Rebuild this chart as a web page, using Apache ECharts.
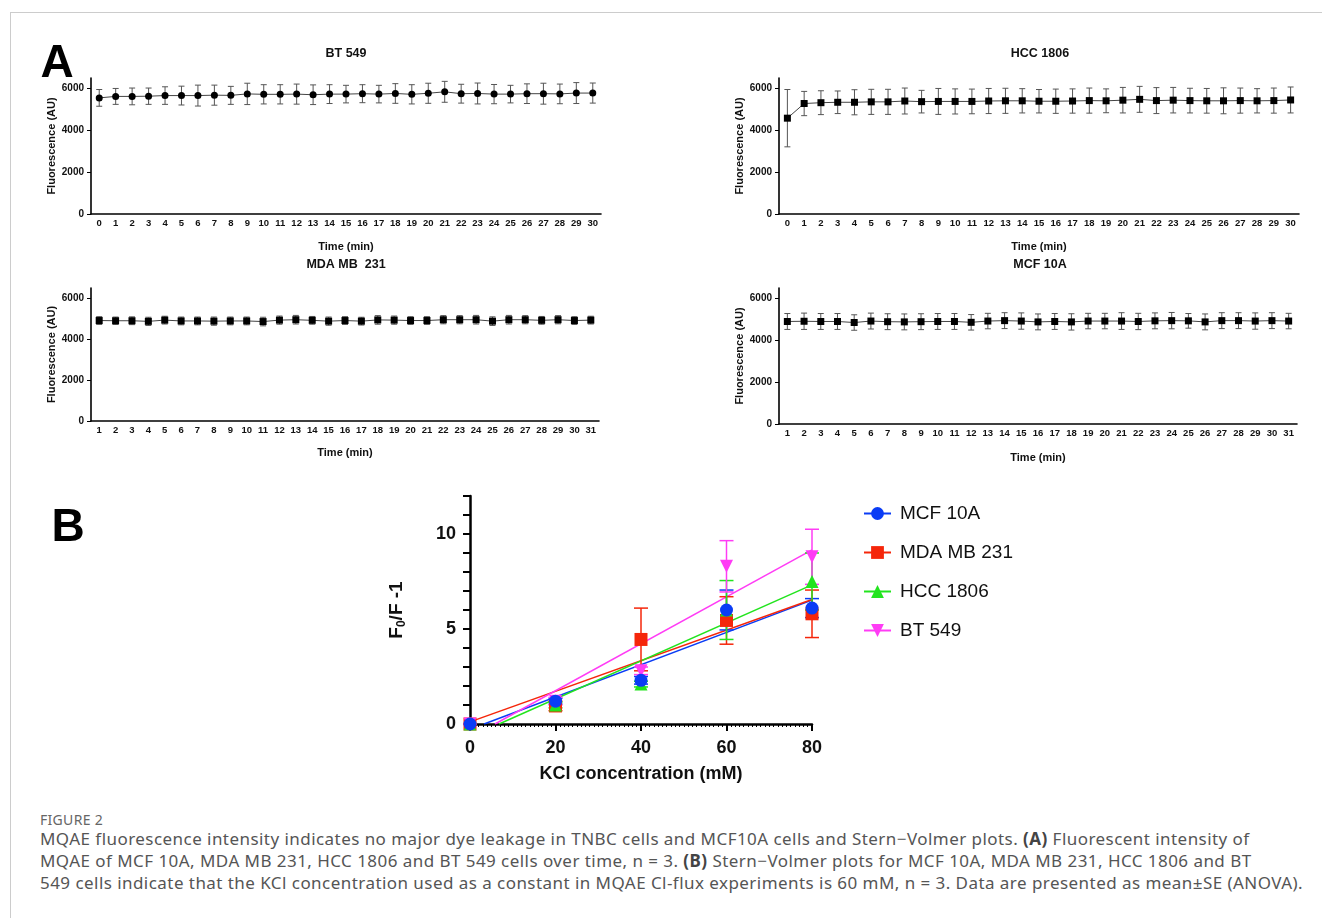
<!DOCTYPE html>
<html>
<head>
<meta charset="utf-8">
<script src="https://cdn.jsdelivr.net/npm/echarts@6/dist/echarts.min.js"></script>
<style>
body{margin:0;background:#fff;}
#page{position:relative;width:1322px;height:918px;overflow:hidden;background:#fff;}
#frame{position:absolute;left:10px;top:12px;width:1330px;height:920px;border-top:1px solid #cccccc;border-left:1px solid #cccccc;}
#chart{position:absolute;left:0;top:0;width:1322px;height:800px;}
.cap{position:absolute;left:40px;font-family:"Noto Sans",sans-serif;color:#555;white-space:nowrap;font-size:17px;letter-spacing:0.45px;}
.cap b{color:#444;}
#fig{top:810px;font-size:14px;letter-spacing:0.3px;color:#666;}
</style>
</head>
<body>
<div id="page">
  <div id="frame"></div>
  <div id="chart"></div>
  <div class="cap" id="fig">FIGURE 2</div>
  <div class="cap" style="top:827px">MQAE fluorescence intensity indicates no major dye leakage in TNBC cells and MCF10A cells and Stern−Volmer plots. <b>(A)</b> Fluorescent intensity of</div>
  <div class="cap" style="top:849px">MQAE of MCF 10A, MDA MB 231, HCC 1806 and BT 549 cells over time, n = 3. <b>(B)</b> Stern−Volmer plots for MCF 10A, MDA MB 231, HCC 1806 and BT</div>
  <div class="cap" style="top:871px">549 cells indicate that the KCl concentration used as a constant in MQAE Cl-flux experiments is 60 mM, n = 3. Data are presented as mean±SE (ANOVA).</div>
</div>
<script>
// ---- panel A: time courses ----
var minutes0 = ['0','1','2','3','4','5','6','7','8','9','10','11','12','13','14','15','16','17','18','19','20','21','22','23','24','25','26','27','28','29','30'];
var minutes1 = ['1','2','3','4','5','6','7','8','9','10','11','12','13','14','15','16','17','18','19','20','21','22','23','24','25','26','27','28','29','30','31'];
var fluoTicks = [0, 2000, 4000, 6000];

var bt549Mean = [5550,5620,5620,5630,5660,5660,5660,5680,5670,5740,5720,5720,5730,5700,5730,5730,5750,5730,5760,5720,5770,5840,5750,5760,5730,5730,5750,5750,5740,5780,5780];
var bt549Err  = [400,380,400,390,420,450,500,480,430,510,460,460,480,470,450,420,430,420,470,460,480,500,450,500,460,420,470,500,470,500,480];

var hcc1806Mean = [4580,5280,5320,5340,5340,5360,5360,5400,5370,5380,5380,5380,5400,5410,5410,5390,5390,5400,5420,5410,5440,5480,5420,5440,5420,5410,5410,5420,5410,5420,5450];
var hcc1806Err  = [1370,580,570,540,600,600,600,620,540,620,600,590,600,600,580,560,580,580,600,570,610,620,620,610,590,590,620,600,580,600,620];

var mda231Mean = [4910,4900,4900,4870,4930,4890,4890,4880,4890,4890,4860,4930,4950,4920,4880,4910,4880,4940,4930,4910,4910,4950,4950,4950,4880,4950,4950,4920,4950,4910,4930];
var mda231Err  = [190,180,190,200,190,190,190,200,190,190,210,200,210,190,200,190,190,210,200,190,190,200,200,210,210,210,200,190,200,190,190];

var mcf10aMean = [4900,4910,4900,4900,4850,4920,4890,4880,4890,4900,4900,4860,4920,4940,4920,4880,4900,4880,4920,4920,4920,4900,4930,4940,4930,4880,4940,4940,4920,4940,4920];
var mcf10aErr  = [380,390,380,380,370,380,380,380,380,380,380,370,370,380,390,380,380,390,370,370,400,390,380,390,350,380,380,380,390,380,370];

// ---- panel B: Stern-Volmer ----
var kcl = [0, 20, 40, 60, 80];
var groupNames = ['MCF 10A', 'MDA MB 231', 'HCC 1806', 'BT 549'];
var mcfSV  = [0, 1.2, 2.3, 6.0, 6.1];
var mcfSVErr = [0, 0.15, 0.2, 1.05, 0.5];
var mdaSV  = [0, 0.95, 4.45, 5.45, 5.8];
var mdaSVErr = [0, 0.25, 1.65, 1.25, 1.25];
var hccSV  = [0, 1.0, 2.1, 6.0, 7.5];
var hccSVErr = [0, 0.15, 0.15, 1.55, 1.5];
var btSV   = [0, 1.2, 2.8, 8.3, 8.8];
var btSVErr = [0, 0.2, 0.2, 1.35, 1.45];

var FONT = '"Liberation Sans", Arial, sans-serif';

function errRows(means, errs, useIndex, xs) {
    var out = [];
    for (var i = 0; i < means.length; i++) {
        out.push([useIndex ? i : xs[i], means[i] - errs[i], means[i] + errs[i]]);
    }
    return out;
}

function errBar(capHalf, color, width) {
    return function (params, api) {
        var x = api.value(0);
        var hi = api.coord([x, api.value(2)]);
        var lo = api.coord([x, api.value(1)]);
        var st = { stroke: color, lineWidth: width };
        return {
            type: 'group',
            children: [
                { type: 'line', shape: { x1: hi[0], y1: hi[1], x2: lo[0], y2: lo[1] }, style: st },
                { type: 'line', shape: { x1: hi[0] - capHalf, y1: hi[1], x2: hi[0] + capHalf, y2: hi[1] }, style: st },
                { type: 'line', shape: { x1: lo[0] - capHalf, y1: lo[1], x2: lo[0] + capHalf, y2: lo[1] }, style: st }
            ]
        };
    };
}

// least squares line, drawn from where it crosses 0 (or x=0) to the last concentration
function fitLine(xs, ys) {
    var n = xs.length, mx = 0, my = 0, sxy = 0, sxx = 0;
    for (var i = 0; i < n; i++) { mx += xs[i] / n; my += ys[i] / n; }
    for (var j = 0; j < n; j++) {
        sxy += (xs[j] - mx) * (ys[j] - my);
        sxx += (xs[j] - mx) * (xs[j] - mx);
    }
    var m = sxy / sxx, b = my - m * mx;
    var x0 = b < 0 ? -b / m : xs[0];
    var x1 = xs[n - 1];
    return [[x0, m * x0 + b], [x1, m * x1 + b]];
}

var myChart = echarts.init(document.getElementById('chart'));

var panels = [
    { title: 'BT 549',      cats: minutes0, mean: bt549Mean,   err: bt549Err,   symbol: 'circle', grid: { left: 91,  top: 78,  width: 510, height: 136 }, nameGap: 27 },
    { title: 'HCC 1806',    cats: minutes0, mean: hcc1806Mean, err: hcc1806Err, symbol: 'rect',   grid: { left: 779, top: 78,  width: 520, height: 136 }, nameGap: 27 },
    { title: 'MDA MB  231', cats: minutes1, mean: mda231Mean,  err: mda231Err,  symbol: 'rect',   grid: { left: 91,  top: 288, width: 508, height: 133 }, nameGap: 26 },
    { title: 'MCF 10A',     cats: minutes1, mean: mcf10aMean,  err: mcf10aErr,  symbol: 'rect',   grid: { left: 779, top: 288, width: 518, height: 136 }, nameGap: 28 }
];

var grids = [], xAxes = [], yAxes = [], series = [], graphics = [];

panels.forEach(function (p, k) {
    grids.push(p.grid);
    xAxes.push({
        type: 'category',
        gridIndex: k,
        data: p.cats,
        boundaryGap: true,
        name: 'Time (min)',
        nameLocation: 'middle',
        nameGap: p.nameGap,
        nameTextStyle: { fontFamily: FONT, fontWeight: 'bold', fontSize: 11, color: '#111' },
        axisLine: { lineStyle: { color: '#000', width: 1.6 } },
        axisTick: { alignWithLabel: true, length: 3, lineStyle: { color: '#000' } },
        axisLabel: { interval: 0, fontFamily: FONT, fontWeight: 'bold', fontSize: 9.5, color: '#111', margin: 4 },
        splitLine: { show: false }
    });
    yAxes.push({
        type: 'value',
        gridIndex: k,
        min: 0,
        max: 6500,
        interval: 2000,
        name: 'Fluorescence (AU)',
        nameLocation: 'middle',
        nameRotate: 90,
        nameGap: 33,
        nameTextStyle: { fontFamily: FONT, fontWeight: 'bold', fontSize: 11, color: '#111' },
        axisLine: { show: true, lineStyle: { color: '#000', width: 1.6 } },
        axisTick: { show: true, length: 4, lineStyle: { color: '#000' }, customValues: fluoTicks },
        axisLabel: {
            fontFamily: FONT, fontWeight: 'bold', fontSize: 10, color: '#111', margin: 7,
            customValues: fluoTicks,
            formatter: function (v) { return String(v); }
        },
        splitLine: { show: false }
    });
    series.push({
        type: 'custom',
        xAxisIndex: k,
        yAxisIndex: k,
        renderItem: errBar(3, '#555', 1),
        encode: { x: 0, y: [1, 2] },
        data: errRows(p.mean, p.err, true),
        z: 2,
        silent: true
    });
    series.push({
        type: 'line',
        xAxisIndex: k,
        yAxisIndex: k,
        data: p.mean,
        symbol: p.symbol,
        symbolSize: 7,
        itemStyle: { color: '#000' },
        lineStyle: { color: '#444', width: 1 },
        z: 3,
        silent: true
    });
    graphics.push({
        type: 'text', x: k % 2 ? 1040 : 346, y: k < 2 ? 54 : 265,
        style: { text: p.title, font: 'bold 12.5px ' + FONT, fill: '#111', align: 'center', verticalAlign: 'middle' }
    });
});

// panel B axes
grids.push({ left: 470, top: 496, width: 342, height: 228 });
xAxes.push({
    type: 'value',
    gridIndex: 4,
    min: 0,
    max: 80,
    interval: 20,
    name: 'KCl concentration (mM)',
    nameLocation: 'middle',
    nameGap: 41,
    nameTextStyle: { fontFamily: FONT, fontWeight: 'bold', fontSize: 18, color: '#111' },
    axisLine: { onZero: false, lineStyle: { color: '#000', width: 2.5 } },
    axisTick: { length: 7, lineStyle: { color: '#000', width: 2 } },
    minorTick: { show: true, splitNumber: 20, length: 3, lineStyle: { color: '#000', width: 1 } },
    axisLabel: { fontFamily: FONT, fontWeight: 'bold', fontSize: 18, color: '#111', margin: 15 },
    splitLine: { show: false }
});
yAxes.push({
    type: 'value',
    gridIndex: 4,
    min: 0,
    max: 12,
    interval: 1,
    name: 'F{s|0}/F -1',
    nameLocation: 'middle',
    nameRotate: 90,
    nameGap: 62,
    nameTextStyle: {
        fontFamily: FONT, fontWeight: 'bold', fontSize: 19, color: '#111',
        rich: { s: { fontFamily: FONT, fontWeight: 'bold', fontSize: 12, color: '#111', verticalAlign: 'bottom', padding: [10, 0, 0, 0] } }
    },
    axisLine: { show: true, onZero: false, lineStyle: { color: '#000', width: 2.5 } },
    axisTick: { show: true, length: 7, lineStyle: { color: '#000', width: 2 } },
    axisLabel: {
        fontFamily: FONT, fontWeight: 'bold', fontSize: 18, color: '#111', margin: 14,
        formatter: function (v) { return v % 5 === 0 ? String(v) : ''; }
    },
    splitLine: { show: false }
});

var svGroups = [
    { name: 'MCF 10A',    ys: mcfSV, err: mcfSVErr, color: '#0a3cf5', symbol: 'circle',   rot: 0 },
    { name: 'MDA MB 231', ys: mdaSV, err: mdaSVErr, color: '#f5260a', symbol: 'rect',     rot: 0 },
    { name: 'HCC 1806',   ys: hccSV, err: hccSVErr, color: '#22e41e', symbol: 'triangle', rot: 0 },
    { name: 'BT 549',     ys: btSV,  err: btSVErr,  color: '#ff3cf5', symbol: 'triangle', rot: 180 }
];

// fit lines first, so the legend picks up line + marker icons
svGroups.forEach(function (g) {
    series.push({
        name: g.name,
        type: 'line',
        xAxisIndex: 4,
        yAxisIndex: 4,
        data: fitLine(kcl, g.ys),
        symbol: g.symbol,
        symbolRotate: g.rot,
        symbolSize: 13,
        showSymbol: false,
        itemStyle: { color: g.color },
        lineStyle: { color: g.color, width: 1.5 },
        z: 2,
        silent: true
    });
});
svGroups.forEach(function (g) {
    series.push({
        name: g.name,
        type: 'custom',
        xAxisIndex: 4,
        yAxisIndex: 4,
        renderItem: errBar(7, g.color, 1.5),
        encode: { x: 0, y: [1, 2] },
        data: errRows(g.ys, g.err, false, kcl),
        z: 3,
        silent: true
    });
});
// draw order of markers: red, green, magenta, blue on top
[1, 2, 3, 0].forEach(function (i) {
    var g = svGroups[i];
    var pts = kcl.map(function (x, j) { return [x, g.ys[j]]; });
    series.push({
        name: g.name,
        type: 'scatter',
        xAxisIndex: 4,
        yAxisIndex: 4,
        data: pts,
        symbol: g.symbol,
        symbolRotate: g.rot,
        symbolSize: 13,
        itemStyle: { color: g.color, opacity: 1 },
        z: 4,
        silent: true
    });
});

graphics.push({ type: 'text', x: 57, y: 64, style: { text: 'A', font: 'bold 46px ' + FONT, fill: '#000', align: 'center', verticalAlign: 'middle' } });
graphics.push({ type: 'text', x: 68, y: 528, style: { text: 'B', font: 'bold 46px ' + FONT, fill: '#000', align: 'center', verticalAlign: 'middle' } });

var option = {
    backgroundColor: 'transparent',
    animation: false,
    grid: grids,
    xAxis: xAxes,
    yAxis: yAxes,
    legend: {
        data: groupNames,
        orient: 'vertical',
        left: 858,
        top: 499,
        itemWidth: 27,
        itemHeight: 16,
        itemGap: 20,
        selectedMode: false,
        textStyle: { fontFamily: FONT, fontSize: 19, color: '#111', padding: [0, 0, 0, 4] }
    },
    graphic: graphics,
    series: series
};
myChart.setOption(option);
</script>
</body>
</html>
